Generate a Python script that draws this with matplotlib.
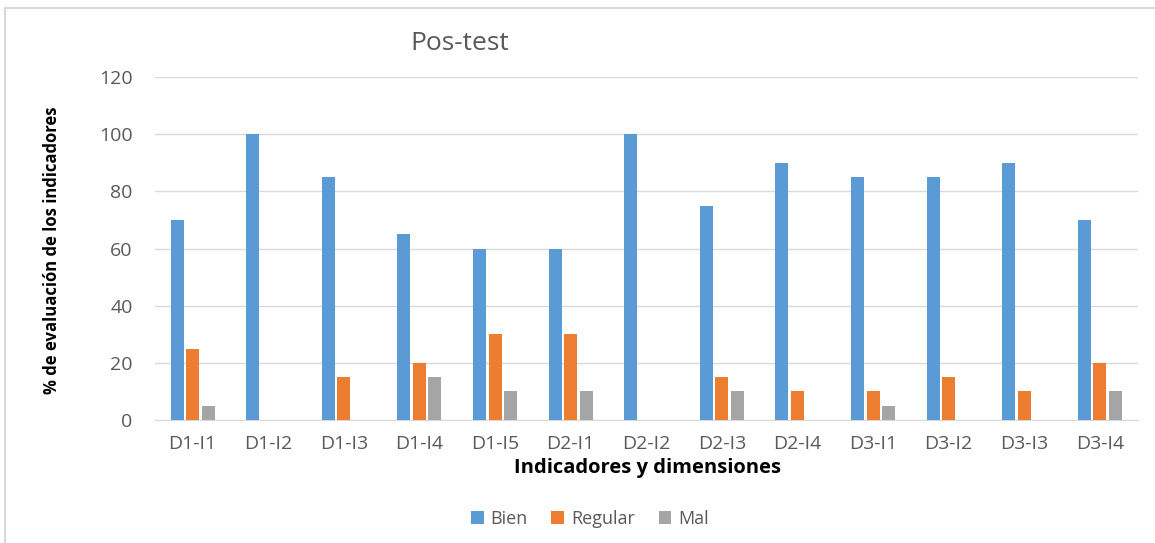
import numpy as np
import matplotlib.pyplot as plt
from matplotlib.patches import Rectangle

categories = ['D1-I1', 'D1-I2', 'D1-I3', 'D1-I4', 'D1-I5', 'D2-I1', 'D2-I2',
              'D2-I3', 'D2-I4', 'D3-I1', 'D3-I2', 'D3-I3', 'D3-I4']
bien = [70, 100, 85, 65, 60, 60, 100, 75, 90, 85, 85, 90, 70]
regular = [25, 0, 15, 20, 30, 30, 0, 15, 10, 10, 15, 10, 20]
mal = [5, 0, 0, 15, 10, 10, 0, 10, 0, 5, 0, 0, 10]
yticks = [0, 20, 40, 60, 80, 100, 120]

plt.rcParams['font.family'] = ['Open Sans', 'DejaVu Sans']

fig = plt.figure(figsize=(11.55, 5.43), dpi=100)
ax = fig.add_axes([0.134, 0.2265, 0.851, 0.6315])

# chart border
fig.patches.append(Rectangle((5 / 1155, -0.1), 1.2, 1 - 8 / 543 + 0.1,
                             transform=fig.transFigure, fill=False,
                             edgecolor='#d9d9d9', linewidth=1.5))

x = np.arange(len(categories))
w = 0.172
step = 0.205
series = [('Bien', bien, '#5B9BD5'), ('Regular', regular, '#ED7D31'), ('Mal', mal, '#A5A5A5')]
for i, (name, vals, col) in enumerate(series):
    ax.bar(x + (i - 1) * step, vals, width=w, color=col, label=name, zorder=3)

ax.set_xlim(-0.5, len(categories) - 0.5)
ax.set_ylim(0, 120)
ax.set_yticks(yticks)
ax.set_xticks(x)
ax.set_xticklabels(categories)
ax.tick_params(axis='both', length=0, colors='#595959', labelsize=14)
ax.tick_params(axis='y', pad=16)
ax.tick_params(axis='x', pad=11)
ax.grid(axis='y', color='#d9d9d9', linewidth=1, zorder=0)
for s in ['top', 'right', 'left']:
    ax.spines[s].set_visible(False)
ax.spines['bottom'].set_color('#d9d9d9')

fig.text(460 / 1155, 1 - 44 / 543, 'Pos-test', ha='center', va='center',
         fontsize=19, color='#595959')
fig.text(52 / 1155, 1 - 250 / 543, '% de evaluación de los indicadores', rotation=90,
         ha='center', va='center', fontsize=12, fontweight='bold', color='black')
fig.text(647 / 1155, 1 - 468 / 543, 'Indicadores y dimensiones', ha='center',
         va='center', fontsize=14.5, fontweight='bold', color='black')

ax.legend(loc='center', bbox_to_anchor=(590 / 1155, 1 - 519 / 543),
          bbox_transform=fig.transFigure, ncol=3, frameon=False, fontsize=13,
          handlelength=0.7, handleheight=0.7, handletextpad=0.4, columnspacing=1.3,
          labelcolor='#595959')

fig.savefig('out.png', dpi=100)
